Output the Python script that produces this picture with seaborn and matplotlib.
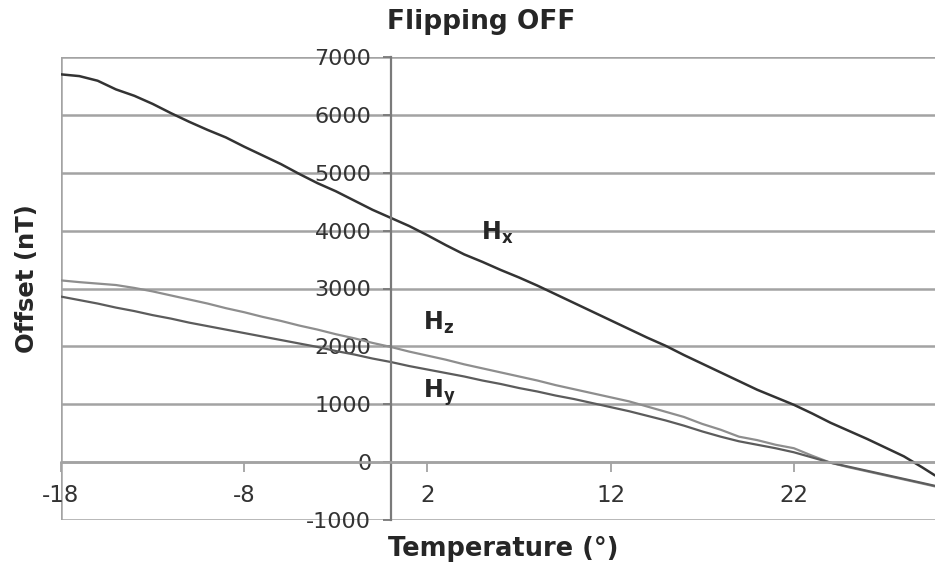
import matplotlib
matplotlib.use("Agg")
import matplotlib.pyplot as plt
import seaborn as sns
import pandas as pd

# temperatura (graus) e offsets (nT)
temperatura = [-18, -17, -16, -15, -14, -13, -12, -11, -10, -9, -8, -7, -6, -5, -4, -3, -2, -1,
               0, 1, 2, 3, 4, 5, 6, 7, 8, 9, 10, 11, 12, 13, 14, 15, 16, 17, 18, 19, 20,
               21, 22, 23, 24, 25, 26, 27, 28, 29, 29.7]

hx = [6700, 6670, 6590, 6440, 6330, 6190, 6030, 5880, 5740, 5610, 5450, 5300, 5150, 4980, 4820,
      4680, 4520, 4360, 4220, 4080, 3920, 3750, 3590, 3460, 3320, 3190, 3050, 2900, 2750, 2600,
      2450, 2300, 2150, 2010, 1850, 1700, 1550, 1400, 1250, 1120, 990, 840, 680, 540, 400, 250,
      100, -90, -230]

hz = [3140, 3110, 3085, 3060, 3010, 2950, 2880, 2810, 2740, 2660, 2590, 2510, 2440, 2360, 2290,
      2210, 2140, 2060, 1990, 1910, 1840, 1770, 1690, 1620, 1550, 1480, 1410, 1330, 1260, 1190,
      1120, 1050, 960, 870, 780, 660, 560, 440, 380, 300, 240, 110, -10, -90, -160, -230,
      -300, -370, -420]

hy = [2860, 2800, 2740, 2670, 2610, 2540, 2480, 2410, 2350, 2290, 2230, 2170, 2110, 2050, 1990,
      1920, 1860, 1790, 1730, 1660, 1600, 1540, 1480, 1410, 1350, 1280, 1220, 1150, 1090, 1020,
      950, 880, 800, 720, 630, 530, 440, 360, 300, 240, 170, 80, -10, -80, -150, -220,
      -290, -360, -410]

y_ticks = [-1000, 0, 1000, 2000, 3000, 4000, 5000, 6000, 7000]
x_ticks = [-18, -8, 2, 12, 22]

df = pd.DataFrame({'Temperatura': temperatura, 'Hx': hx, 'Hy': hy, 'Hz': hz})

sns.set_theme(style='white')
plt.rcParams['font.family'] = ['DejaVu Sans']
plt.rcParams['axes.unicode_minus'] = False  # o original usa hifen simples

fig = plt.figure(figsize=(9.35, 5.77), dpi=100)
ax = fig.add_axes([61 / 935, 1 - 520 / 577, (935 - 61) / 935, (520 - 57) / 577])

cor_grade = '#a3a3a3'
for yv in y_ticks:
    ax.axhline(yv, color=cor_grade, lw=1.8, zorder=0)
ax.axvline(-18, color=cor_grade, lw=1.8, zorder=0)

sns.lineplot(data=df, x='Temperatura', y='Hz', ax=ax, color='#8e8e8e', lw=1.6)
sns.lineplot(data=df, x='Temperatura', y='Hy', ax=ax, color='#5c5c5c', lw=1.6)
sns.lineplot(data=df, x='Temperatura', y='Hx', ax=ax, color='#333333', lw=1.8)

ax.set_xlim(-18, 29.7)
ax.set_ylim(-1000, 7000)
ax.set_xticks(x_ticks)
ax.set_yticks(y_ticks)
ax.set_xlabel('')
ax.set_ylabel('')

# eixos cruzando no zero
ax.spines['left'].set_position(('data', 0))
ax.spines['bottom'].set_position(('data', 0))
ax.spines['top'].set_visible(False)
ax.spines['right'].set_visible(False)
ax.spines['left'].set_color('#7a7a7a')
ax.spines['left'].set_linewidth(1.6)
ax.spines['bottom'].set_color(cor_grade)
ax.spines['bottom'].set_linewidth(1.8)
ax.tick_params(axis='y', direction='out', length=6, width=1.3, color='#7a7a7a',
               pad=8, labelsize=16, labelcolor='#333333', left=True)
ax.tick_params(axis='x', direction='out', length=7, width=1.3, color=cor_grade,
               pad=9, labelsize=16.5, labelcolor='#333333', bottom=True)

# rotulos das curvas
ax.text(4.9, 3840, r'$\mathbf{H}_{\mathbf{x}}$', fontsize=17, ha='left', va='baseline')
ax.text(1.75, 2290, r'$\mathbf{H}_{\mathbf{z}}$', fontsize=17, ha='left', va='baseline')
ax.text(1.75, 1110, r'$\mathbf{H}_{\mathbf{y}}$', fontsize=17, ha='left', va='baseline')

fig.text(481 / 935, 1 - 22 / 577, 'Flipping OFF', fontsize=19, fontweight='bold',
         ha='center', va='center')
fig.text(503 / 935, 1 - 549 / 577, 'Temperature (°)', fontsize=18.5, fontweight='bold',
         ha='center', va='center')
fig.text(27 / 935, 1 - 279 / 577, 'Offset (nT)', fontsize=17.5, fontweight='bold',
         ha='center', va='center', rotation=90)

plt.savefig('out.png', dpi=100)
